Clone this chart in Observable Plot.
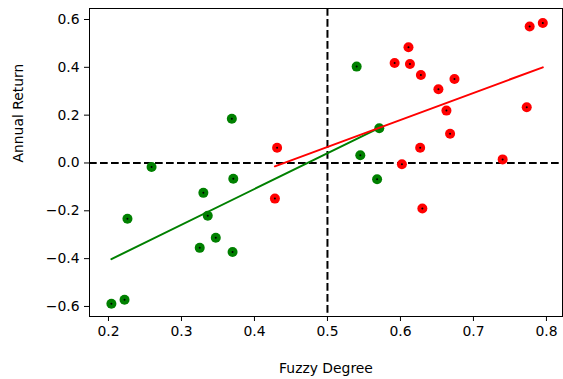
<!DOCTYPE html>
<html><head><meta charset="utf-8">
<script src="https://cdn.jsdelivr.net/npm/d3@7"></script>
<script src="https://cdn.jsdelivr.net/npm/@observablehq/plot@0.6"></script>
<style>body{margin:0;background:#fff}</style>
</head><body><div id="chart"></div>
<script>
const greenX = [0.204, 0.222, 0.226, 0.259, 0.325, 0.330, 0.336, 0.347, 0.369, 0.370, 0.371, 0.540, 0.545, 0.568, 0.571];
const greenY = [-0.589, -0.572, -0.233, -0.017, -0.355, -0.125, -0.221, -0.313, 0.185, -0.372, -0.066, 0.403, 0.032, -0.068, 0.145];
const redX = [0.428, 0.431, 0.592, 0.602, 0.611, 0.613, 0.627, 0.628, 0.630, 0.652, 0.663, 0.668, 0.674, 0.740, 0.773, 0.777, 0.795];
const redY = [-0.149, 0.064, 0.418, -0.005, 0.484, 0.414, 0.064, 0.368, -0.190, 0.308, 0.219, 0.122, 0.351, 0.015, 0.233, 0.571, 0.585];
const greenFitX = [0.204, 0.571];
const greenFitY = [-0.402, 0.147];
const redFitX = [0.428, 0.795];
const redFitY = [-0.014, 0.400];
const xTicks = [0.2, 0.3, 0.4, 0.5, 0.6, 0.7, 0.8];
const yTicks = [-0.6, -0.4, -0.2, 0.0, 0.2, 0.4, 0.6];
const xLabel = "Fuzzy Degree";
const yLabel = "Annual Return";

const toPts = (xs, ys) => xs.map((x, i) => ({x, y: ys[i]}));
const green = toPts(greenX, greenY);
const red = toPts(redX, redY);
const all = green.concat(red);
const greenFit = toPts(greenFitX, greenFitY);
const redFit = toPts(redFitX, redFitY);
const fmt = d3.format(".1f");
const dash = "7.7,3.3";

const chart = Plot.plot({
  width: 563, height: 379,
  marginLeft: 89, marginRight: 1, marginTop: 8, marginBottom: 63,
  style: {fontFamily: "DejaVu Sans", fontSize: "13.9px", background: "#fff", color: "black"},
  x: {domain: [0.174, 0.822]},
  y: {domain: [-0.642, 0.646]},
  marks: [
    Plot.ruleY([0], {stroke: "black", strokeWidth: 2, strokeDasharray: dash}),
    Plot.ruleX([0.5], {stroke: "black", strokeWidth: 2, strokeDasharray: dash}),
    Plot.dot(green, {x: "x", y: "y", r: 5, fill: "#008000"}),
    Plot.dot(red, {x: "x", y: "y", r: 5, fill: "#ff0000"}),
    Plot.dot(all, {x: "x", y: "y", r: 1, fill: "black"}),
    Plot.line(greenFit, {x: "x", y: "y", stroke: "#008000", strokeWidth: 2}),
    Plot.line(redFit, {x: "x", y: "y", stroke: "#ff0000", strokeWidth: 2}),
    Plot.frame({stroke: "black", strokeWidth: 1}),
    Plot.axisX(xTicks, {tickSize: 5, tickPadding: 5, tickFormat: fmt, label: null}),
    Plot.axisY(yTicks, {tickSize: 5, tickPadding: 5, tickFormat: fmt, label: null}),
    Plot.text([xLabel], {text: d => d, frameAnchor: "bottom", dy: 52, lineAnchor: "middle"}),
    Plot.text([yLabel], {text: d => d, frameAnchor: "left", dx: -71, rotate: -90, lineAnchor: "middle"})
  ]
});
document.getElementById("chart").appendChild(chart);
</script>
</body></html>
